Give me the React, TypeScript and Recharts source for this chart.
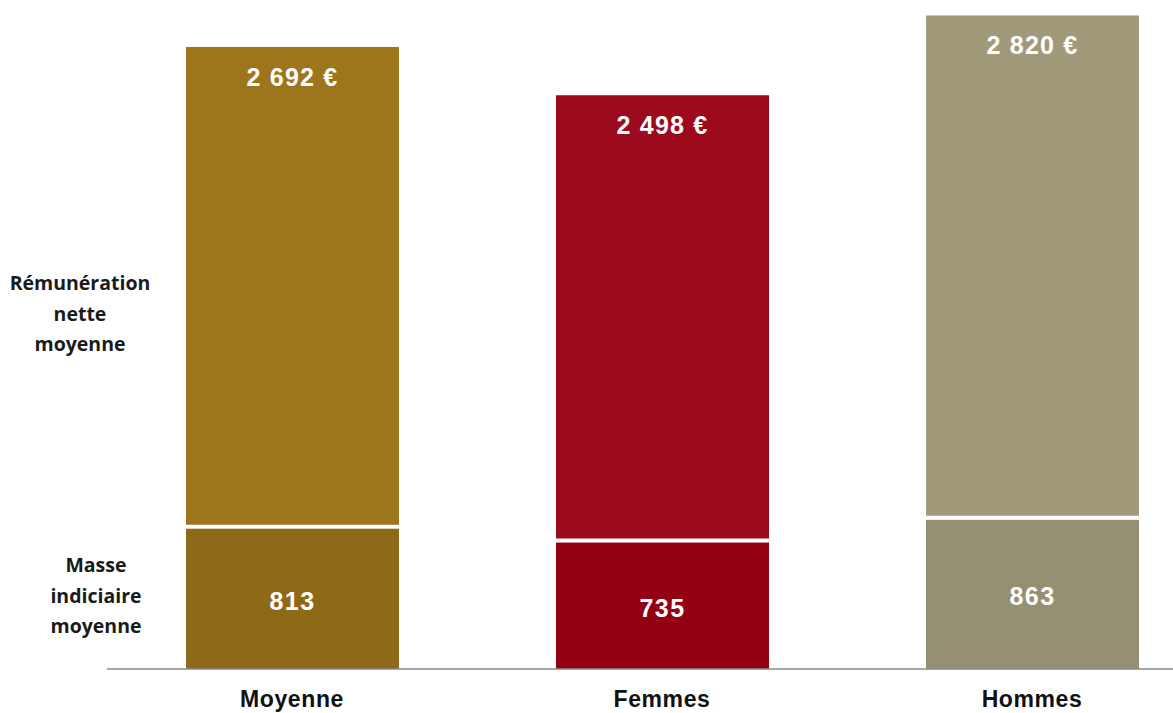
import { BarChart, Bar, XAxis, YAxis, Cell, LabelList } from 'recharts';

const categories = ['Moyenne', 'Femmes', 'Hommes'];
const masseIndiciaire = [813, 735, 863];
const remuneration = [2692, 2498, 2820];

const topColors = ['#9c751c', '#9c0a1d', '#a09a7b'];
const bottomColors = ['#8e6a18', '#930013', '#958f73'];

const data = categories.map((name, i) => ({
  name,
  masse: masseIndiciaire[i],
  remu: remuneration[i],
}));

const euro = (v: number) => String(v).replace(/\B(?=(\d{3})+(?!\d))/g, ' ') + ' €';

const GAP = 4;
const FONT = "'Liberation Sans', Arial, sans-serif";

const BottomShape = (props: any) => {
  const { x, y, width, height, fill } = props;
  return <rect x={x} y={y + GAP} width={width} height={Math.max(0, height - GAP)} fill={fill} />;
};

const TopLabel = (props: any) => {
  const { x, y, width, value } = props;
  return (
    <text x={x + width / 2} y={y + 30} fill="#fff" fontSize={25} fontWeight="bold" textAnchor="middle"
      dominantBaseline="central" fontFamily={FONT} letterSpacing={1.2}>
      {euro(value)}
    </text>
  );
};

const MidLabel = (props: any) => {
  const { x, y, width, height, value } = props;
  return (
    <text x={x + width / 2} y={y + GAP + (height - GAP) / 2 + 2} fill="#fff" fontSize={25} fontWeight="bold"
      textAnchor="middle" dominantBaseline="central" fontFamily={FONT} letterSpacing={1.5}>
      {value}
    </text>
  );
};

const CatTick = (props: any) => {
  const { x, y, payload } = props;
  return (
    <text x={x} y={y + 22} fill="#111" fontSize={23} fontWeight="bold" textAnchor="middle"
      dominantBaseline="central" fontFamily={FONT} letterSpacing={0.6}>
      {payload.value}
    </text>
  );
};

const sideLabel: React.CSSProperties = {
  position: 'absolute',
  width: 180,
  textAlign: 'center',
  fontFamily: "'Open Sans', sans-serif",
  fontWeight: 700,
  fontSize: 19.5,
  lineHeight: '30.5px',
  color: '#1a1a1a',
};

export default function App() {
  return (
    <div style={{ position: 'absolute', left: 0, top: 0, width: 1173, height: 713, overflow: 'hidden', background: '#fff' }}>
      <BarChart width={1230} height={713} data={data} margin={{ top: 0, right: 13, left: 107, bottom: 0 }}>
        <YAxis hide domain={[0, 3770]} />
        <XAxis dataKey="name" height={44} axisLine={{ stroke: '#8a8a8a', strokeWidth: 1.5 }} tickLine={false}
          tick={<CatTick />} interval={0} />
        <Bar dataKey="masse" stackId="a" barSize={213} shape={<BottomShape />} isAnimationActive={false}>
          {data.map((_, i) => <Cell key={i} fill={bottomColors[i]} />)}
          <LabelList dataKey="masse" content={<MidLabel />} />
        </Bar>
        <Bar dataKey="remu" stackId="a" barSize={213} isAnimationActive={false}>
          {data.map((_, i) => <Cell key={i} fill={topColors[i]} />)}
          <LabelList dataKey="remu" content={<TopLabel />} />
        </Bar>
      </BarChart>
      <div style={{ ...sideLabel, left: -10, top: 268 }}>Rémunération<br />nette<br />moyenne</div>
      <div style={{ ...sideLabel, left: 6, top: 550 }}>Masse<br />indiciaire<br />moyenne</div>
    </div>
  );
}
